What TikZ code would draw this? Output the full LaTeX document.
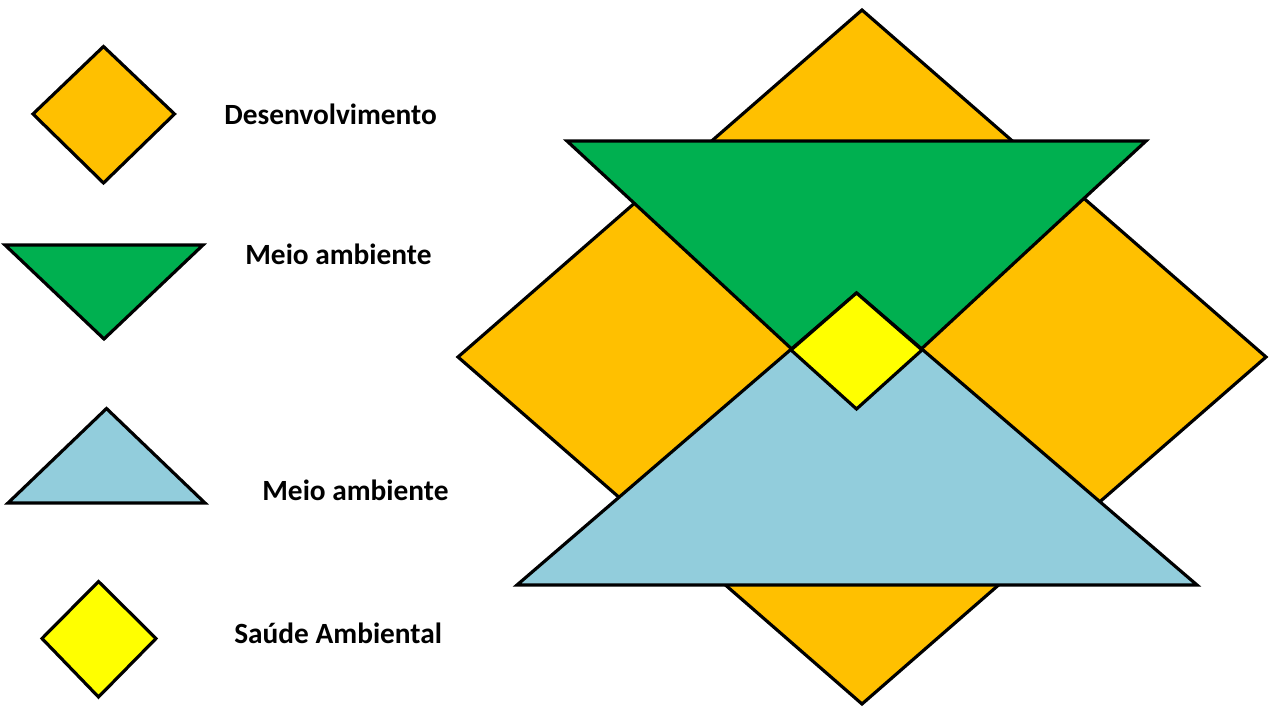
\documentclass[tikz,border=0pt]{standalone}
\usepackage{fontspec}
\setmainfont{Carlito}
\definecolor{orng}{HTML}{FFC000}
\definecolor{grn}{HTML}{00B050}
\definecolor{lblue}{HTML}{92CDDC}
\definecolor{ylw}{HTML}{FFFF00}
\tikzset{
  shp/.style={draw=black, line width=1.8pt, line join=miter},
  lbl/.style={anchor=west, inner sep=0pt, font=\fontsize{16.7}{19}\selectfont\bfseries}
}
\begin{document}
\begin{tikzpicture}[x=0.02cm,y=-0.02cm]
\useasboundingbox (0,0) rectangle (1271,709);
% main figure: four orange diamonds
\filldraw[shp, fill=orng] (862,10) -- (1064,186) -- (862,362) -- (660,186) -- cycle;
\filldraw[shp, fill=orng] (458,357) -- (660,181) -- (862,357) -- (660,533) -- cycle;
\filldraw[shp, fill=orng] (862,357) -- (1064,181) -- (1266,357) -- (1064,533) -- cycle;
\filldraw[shp, fill=orng] (862,352) -- (1064,528) -- (862,704) -- (660,528) -- cycle;
% green triangle
\filldraw[shp, fill=grn] (567,141) -- (1146,141) -- (856.5,409) -- cycle;
% blue triangle
\filldraw[shp, fill=lblue] (517,585) -- (1197,585) -- (856.5,293) -- cycle;
% yellow diamond
\filldraw[shp, fill=ylw] (856.5,293) -- (922,350) -- (856.5,409) -- (791,350) -- cycle;
% legend
\filldraw[shp, fill=orng] (33,114) -- (103.5,46.5) -- (174.5,114) -- (103.5,183) -- cycle;
\filldraw[shp, fill=grn] (5,245) -- (203,245) -- (104,339) -- cycle;
\filldraw[shp, fill=lblue] (8,503) -- (205,503) -- (106.5,408.5) -- cycle;
\filldraw[shp, fill=ylw] (42,638.5) -- (98.5,581.5) -- (156,638.5) -- (98.5,697) -- cycle;
\node[lbl] (l1) at (224,114) {Desenvolvimento};
\node[lbl] (l2) at (245,254) {Meio ambiente};
\node[lbl] (l3) at (262,490) {Meio ambiente};
\node[lbl] (l4) at (234,633) {Saúde Ambiental};
\end{tikzpicture}
\end{document}
